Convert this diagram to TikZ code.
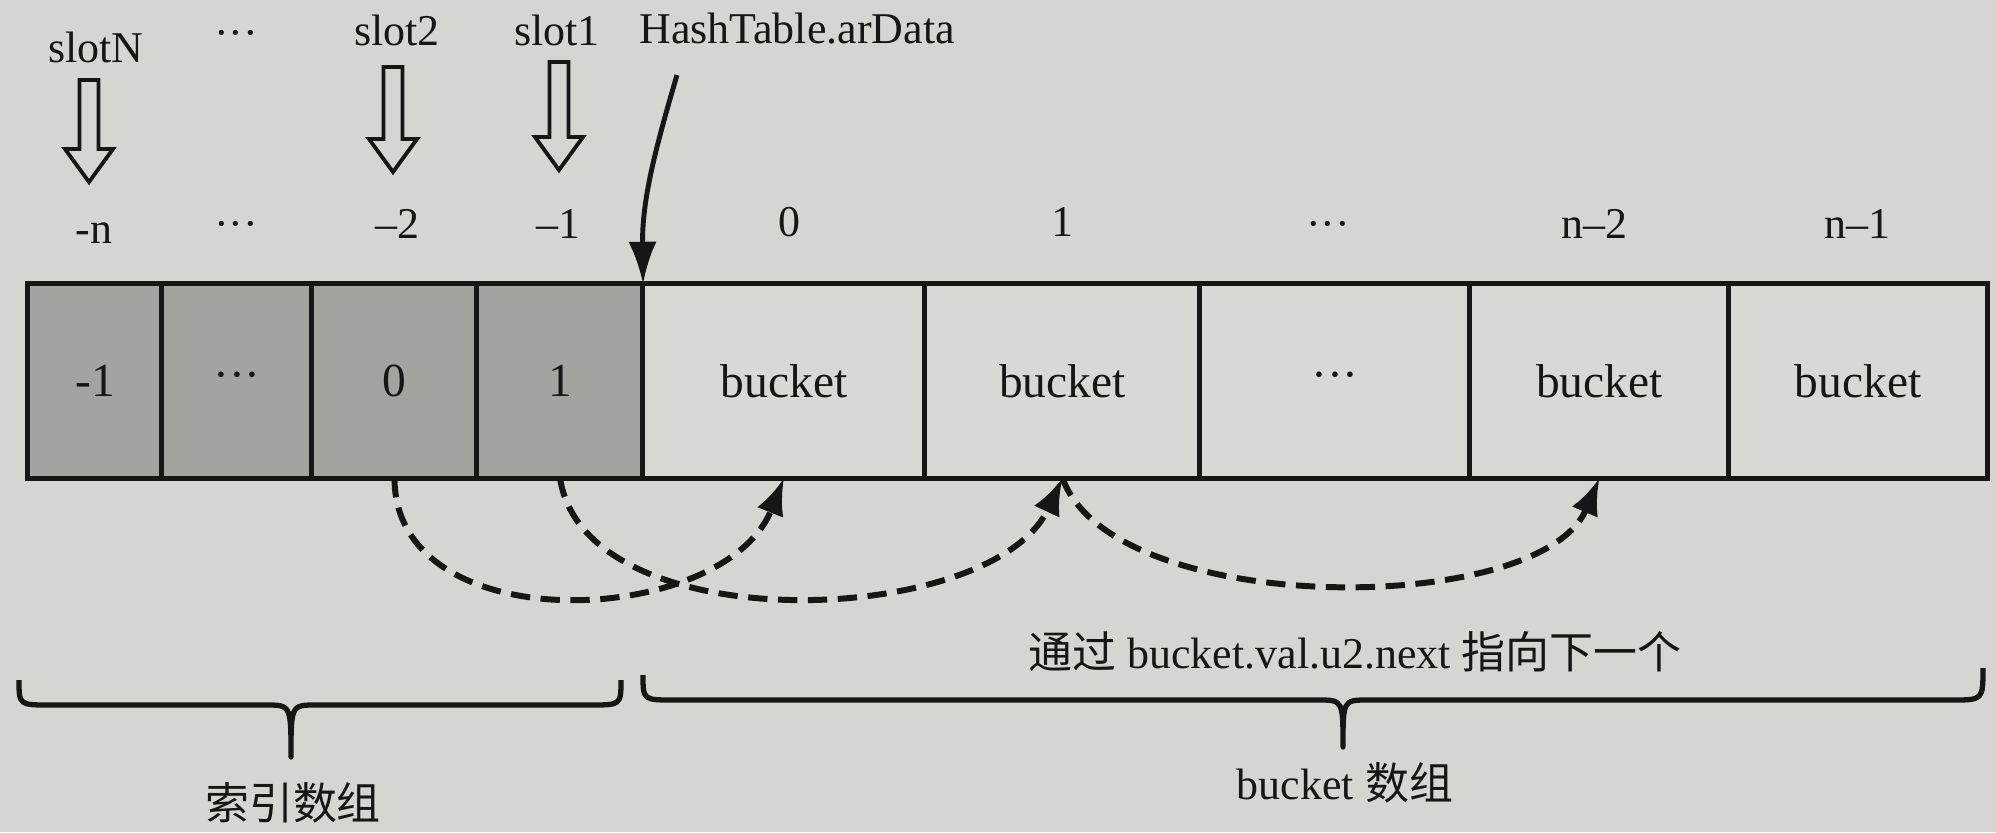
\documentclass[tikz,border=0pt]{standalone}
\usepackage{fontspec}
\setmainfont{Liberation Serif}
\newfontfamily\cjk{Noto Sans CJK SC}
\usetikzlibrary{arrows.meta}
\definecolor{paper}{RGB}{213,213,209}
\definecolor{idxgray}{RGB}{163,163,160}
\definecolor{bktgray}{RGB}{216,216,212}
\definecolor{ink}{RGB}{22,22,22}
\newcommand\hollowarrow[3]{\draw[hollow] (#1-9.5,#2) -- (#1+9.5,#2) -- (#1+9.5,#3-33) -- (#1+24,#3-33) -- (#1,#3) -- (#1-24,#3-33) -- (#1-9.5,#3-33) -- cycle;}
\begin{document}
\begin{tikzpicture}[x=0.01cm,y=-0.01cm,
  cell/.style={draw=ink, line width=1.4pt, minimum height=1.94cm, inner sep=0pt, outer sep=0pt, font=\fontsize{13.5}{15}\selectfont, text=ink},
  idx/.style={cell, fill=idxgray},
  bkt/.style={cell, fill=bktgray},
  lbl/.style={font=\fontsize{12.5}{14}\selectfont, text=ink, inner sep=0pt, anchor=base},
  cjklbl/.style={font=\fontsize{12.5}{14}\selectfont, text=ink, inner sep=0pt},
  hollow/.style={draw=ink, line width=1.1pt, fill=paper, line join=miter},
  link/.style={draw=ink, line width=1.7pt, dash pattern=on 5.5pt off 3pt, -{Latex[length=10.5pt,width=8pt]}},
  pointer/.style={draw=ink, line width=1.4pt, -{Latex[length=12pt,width=8pt]}},
  brace/.style={draw=ink, line width=1.5pt, line join=round}
]
\useasboundingbox[fill=paper] (0,0) rectangle (1996,832);

% array cells
\node[idx, minimum width=1.34cm] (c1) at (95,381) {-1};
\node[idx, minimum width=1.50cm] (c2) at (237,381) {···};
\node[idx, minimum width=1.65cm] (c3) at (394.5,381) {0};
\node[idx, minimum width=1.66cm] (c4) at (560,381) {1};
\node[bkt, minimum width=2.82cm] (c5) at (784,381) {bucket};
\node[bkt, minimum width=2.75cm] (c6) at (1062.5,381) {bucket};
\node[bkt, minimum width=2.70cm] (c7) at (1335,381) {···};
\node[bkt, minimum width=2.59cm] (c8) at (1599.5,381) {bucket};
\node[bkt, minimum width=2.58cm] (c9) at (1858,381) {bucket};

% top labels
\node[lbl] (slotN) at (96,62) {slotN};
\node[lbl] (dtop) at (236,47) {···};
\node[lbl] (slot2) at (397,45) {slot2};
\node[lbl] (slot1) at (557,45) {slot1};
\node[lbl] (ht) at (797,43) {HashTable.arData};

% hollow arrows
\hollowarrow{89}{80}{182}
\hollowarrow{393}{67}{172}
\hollowarrow{559}{62}{170}

% index labels
\node[lbl] (in) at (94,243) {-n};
\node[lbl] (idots) at (236,238) {···};
\node[lbl] (im2) at (397,238) {–2};
\node[lbl] (im1) at (558,238) {–1};
\node[lbl] (i0) at (789,236) {0};
\node[lbl] (i1) at (1062,236) {1};
\node[lbl] (bdots) at (1328,238) {···};
\node[lbl] (in2) at (1594,238) {n–2};
\node[lbl] (in1) at (1857,238) {n–1};

% arData pointer
\coordinate (hs) at (677,75);
\draw[pointer] (hs) .. controls (655,150) and (642,200) .. (c4.north east);

% dashed links
\draw[link] (c3.south) .. controls +(0,165) and +(-60,150) .. (c5.south);
\draw[link] (c4.south) .. controls +(25,165) and +(-70,150) .. (c6.south);
\draw[link] (c6.south) .. controls +(50,140) and +(-60,140) .. (c8.south);

\node[cjklbl] (note) at (1355,652) {{\cjk 通过} bucket.val.u2.next {\cjk 指向下一个}};

% braces
\draw[brace] (19,680) .. controls (19,705) .. (50,705) -- (266,705)
  .. controls (291,705) .. (291,757) .. controls (291,705) .. (316,705)
  -- (590,705) .. controls (621,705) .. (621,680);
\draw[brace] (643,675) .. controls (643,700) .. (674,700) -- (1318,700)
  .. controls (1343,700) .. (1343,747) .. controls (1343,700) .. (1368,700)
  -- (1952,700) .. controls (1983,700) .. (1983,668);

\node[cjklbl] (idxname) at (293,803) {\cjk 索引数组};
\node[cjklbl] (bktname) at (1345,783) {bucket {\cjk 数组}};
\end{tikzpicture}
\end{document}
